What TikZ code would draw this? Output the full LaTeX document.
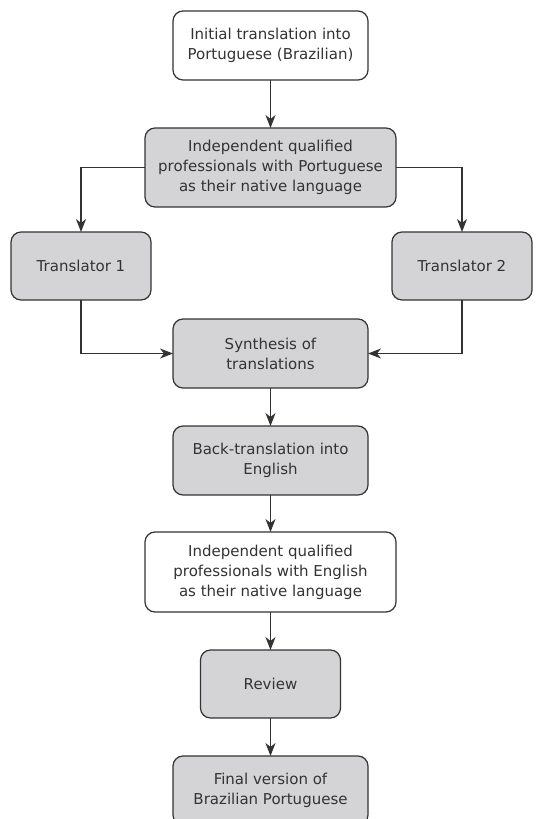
\documentclass[tikz,border=0pt]{standalone}
\usepackage{fontspec}
\setmainfont{DejaVu Sans}
\usetikzlibrary{calc,
arrows.meta,
positioning}
\definecolor{boxgray}{HTML}{D4D4D6}
\definecolor{linegray}{HTML}{333333}

\begin{document}
\begin{tikzpicture} [-{Stealth[length=13pt, width=10pt, inset=4pt]},
    x = 1pt,
    y = -1pt,
    line width = 1.2pt,
    draw = linegray,
    main node/.style={rectangle, rounded corners = 10pt, fill = white, draw = linegray,
        align=center, inner sep = 2pt, outer sep = 0pt, text = linegray,
        line width = 1.2pt, minimum width = 195pt, minimum height = 69pt},
    every node/.style={font=\fontsize{15}{20}\selectfont}
  ]

  \useasboundingbox (0, 0) rectangle (547, 819);

  \node [main node
  ] (init) at (270.5, 45.5) {Initial translation into\\Portuguese (Brazilian)};

  \node [main node,
    fill = boxgray,
    minimum width = 251pt,
    minimum height = 79pt,
    below = 48pt of init
  ] (indport) {Independent qualified\\professionals with Portuguese\\as their native language};

  \draw (init.south) -- (indport.north);

  \node [main node,
    fill = boxgray,
    minimum width = 140pt,
    minimum height = 68pt
  ] (trans1) at (81, 266) {Translator 1};

  \node [main node,
    fill = boxgray,
    minimum width = 140pt,
    minimum height = 68pt
  ] (trans2) at (462, 266) {Translator 2};

  \draw (indport.west) -| (trans1.north);
  \draw (indport.east) -| (trans2.north);

  \node [main node,
    fill = boxgray,
    below = 112pt of indport
  ] (synth) {Synthesis of\\translations};

  \draw (trans1.south) |- (synth.west);
  \draw (trans2.south) |- (synth.east);

  \node [main node,
    fill = boxgray,
    below = 38pt of synth
  ] (back) {Back-translation into\\English};

  \draw (synth.south) -- (back.north);

  \node [main node,
    minimum width = 251pt,
    minimum height = 80pt,
    below = 37pt of back
  ] (indeng) {Independent qualified\\professionals with English\\as their native language};

  \draw (back.south) -- (indeng.north);

  \node [main node,
    fill = boxgray,
    minimum width = 140pt,
    minimum height = 68pt,
    below = 38pt of indeng
  ] (review) {Review};

  \draw (indeng.south) -- (review.north);

  \node [main node,
    fill = boxgray,
    below = 38pt of review
  ] (final) {Final version of\\Brazilian Portuguese};

  \draw (review.south) -- (final.north);

\end{tikzpicture}
\end{document}
